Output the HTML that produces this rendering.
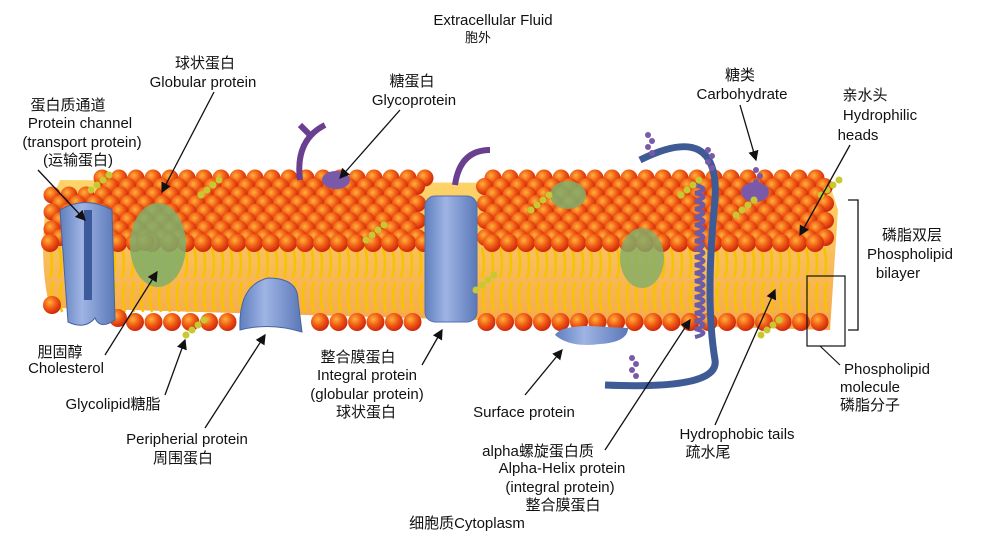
<!DOCTYPE html>
<html><head><meta charset="utf-8"><style>
body{margin:0;background:#fff;}
svg{display:block;}
text{font-family:"Liberation Sans","Noto Sans CJK SC",sans-serif;font-size:15px;fill:#111;text-anchor:middle;}
</style></head><body>
<svg id="s" width="1000" height="538" viewBox="0 0 1000 538">
<defs>
<radialGradient id="ball" cx="0.38" cy="0.35" r="0.7"><stop offset="0" stop-color="#ffb13a"/><stop offset="0.5" stop-color="#f05a14"/><stop offset="1" stop-color="#c8200c"/></radialGradient>
<linearGradient id="band" x1="0" y1="0" x2="0" y2="1"><stop offset="0" stop-color="#fcd56a"/><stop offset="1" stop-color="#f6a84a"/></linearGradient>
<linearGradient id="blue" x1="0" y1="0" x2="1" y2="0"><stop offset="0" stop-color="#5f7fbf"/><stop offset="0.4" stop-color="#9fb4e4"/><stop offset="1" stop-color="#5a78b8"/></linearGradient>
<marker id="ar" markerWidth="8" markerHeight="8" refX="7" refY="4" orient="auto"><path d="M0,0 L8,4 L0,8 z" fill="#111"/></marker>
</defs>
<g>
<path d="M45,215 Q40,260 48,300 L60,308 L830,330 L838,210 L830,185 L60,180 Z" fill="url(#band)"/>
<g id="tails"></g>
<g id="balls"></g>
</g>
<g>
<path d="M60,210 Q85,195 112,210 L115,320 Q100,330 95,318 Q85,330 68,322 Z" fill="url(#blue)" stroke="#4a64a0"/>
<path d="M88,210 L88,300" stroke="#3d5a9a" stroke-width="8"/>
<ellipse cx="158" cy="245" rx="28" ry="42" fill="#7fae6a" opacity="0.85"/>
<ellipse cx="568" cy="195" rx="18" ry="14" fill="#7fae6a" opacity="0.85"/>
<ellipse cx="642" cy="258" rx="22" ry="30" fill="#7fae6a" opacity="0.8"/>
<rect x="425" y="196" width="52" height="126" rx="10" fill="url(#blue)" stroke="#5270ac"/>
<path d="M240,330 Q238,285 268,278 Q298,278 298,300 L302,332 Q270,322 240,330 Z" fill="url(#blue)" stroke="#4a64a0"/>
<path d="M555,335 Q560,326 590,326 L628,328 Q628,342 600,344 Q570,348 555,335Z" fill="url(#blue)"/>
<path d="M640,160 Q720,120 715,200 Q705,300 715,360 Q720,390 605,385" fill="none" stroke="#3f5b95" stroke-width="7"/>
<path id="helix" fill="none" stroke="#6b5ba8" stroke-width="4"/>
<path d="M300,180 Q295,140 325,125 M310,135 L300,125" fill="none" stroke="#6a3f8f" stroke-width="6"/>
<path d="M455,185 Q460,150 490,150" fill="none" stroke="#6a3f8f" stroke-width="6"/>
<ellipse cx="336" cy="180" rx="14" ry="9" fill="#7a5aa8"/>
<ellipse cx="755" cy="192" rx="14" ry="10" fill="#7a5aa8"/>
</g>
<g id="chains"></g>
<g id="labels">
<text x="493" y="25">Extracellular Fluid</text>
<text x="478" y="42" style="font-size:13px">胞外</text>
<text x="205" y="68">球状蛋白</text><text x="203" y="87">Globular protein</text>
<text x="412" y="86">糖蛋白</text><text x="414" y="105">Glycoprotein</text>
<text x="740" y="80">糖类</text><text x="742" y="99">Carbohydrate</text>
<text x="865" y="100">亲水头</text><text x="880" y="120">Hydrophilic</text><text x="858" y="140">heads</text>
<text x="68" y="110">蛋白质通道</text><text x="80" y="128">Protein channel</text><text x="82" y="147">(transport protein)</text><text x="78" y="165">(运输蛋白)</text>
<text x="912" y="240">磷脂双层</text><text x="910" y="259">Phospholipid</text><text x="898" y="278">bilayer</text>
<text x="60" y="357">胆固醇</text><text x="66" y="373">Cholesterol</text>
<text x="113" y="409">Glycolipid糖脂</text>
<text x="187" y="444">Peripherial protein</text><text x="183" y="463">周围蛋白</text>
<text x="358" y="362">整合膜蛋白</text><text x="367" y="380">Integral protein</text><text x="367" y="399">(globular protein)</text><text x="366" y="417">球状蛋白</text>
<text x="524" y="417">Surface protein</text>
<text x="887" y="374">Phospholipid</text><text x="870" y="392">molecule</text><text x="870" y="410">磷脂分子</text>
<text x="737" y="439">Hydrophobic tails</text><text x="708" y="457">疏水尾</text>
<text x="538" y="456">alpha螺旋蛋白质</text><text x="562" y="473">Alpha-Helix protein</text><text x="560" y="492">(integral protein)</text><text x="563" y="510">整合膜蛋白</text>
<text x="467" y="528">细胞质Cytoplasm</text>
</g>
<g stroke="#111" stroke-width="1.3" fill="none">
<path d="M214,92 L162,192" marker-end="url(#ar)"/>
<path d="M400,110 L340,178" marker-end="url(#ar)"/>
<path d="M740,105 L756,160" marker-end="url(#ar)"/>
<path d="M850,145 L800,235" marker-end="url(#ar)"/>
<path d="M38,170 L85,220" marker-end="url(#ar)"/>
<path d="M105,355 L157,272" marker-end="url(#ar)"/>
<path d="M165,395 L185,340" marker-end="url(#ar)"/>
<path d="M205,428 L265,335" marker-end="url(#ar)"/>
<path d="M422,365 L442,330" marker-end="url(#ar)"/>
<path d="M525,395 L562,350" marker-end="url(#ar)"/>
<path d="M605,450 L690,320" marker-end="url(#ar)"/>
<path d="M715,425 L775,290" marker-end="url(#ar)"/>
<path d="M848,200 L858,200 L858,330 L848,330"/>
</g>
<rect x="807" y="276" width="38" height="70" fill="none" stroke="#111" stroke-width="1.2"/>
<path d="M820,346 L840,365" stroke="#111" stroke-width="1.2"/>
</svg>
<script>
const NS="http://www.w3.org/2000/svg";
function mk(tag,attrs,parent){const e=document.createElementNS(NS,tag);for(const k in attrs)e.setAttribute(k,attrs[k]);parent.appendChild(e);return e;}
const tails=document.getElementById('tails');
for(let x=50;x<830;x+=9){
 const p=mk('path',{d:`M${x},248 q4,15 0,30 M${x+3},282 q-4,15 0,30`,stroke:'#f7c200','stroke-width':2.5,fill:'none'},tails);
 
 
}
const balls=document.getElementById('balls');
function ball(x,y,r){const c=mk('circle',{cx:x,cy:y,r:r,fill:'url(#ball)'},balls);
 
 }
for(let j=0;j<8;j++){
 const y=178+j*8.5, off=(j%2)*8.5;
 for(let x=52+off+(j<2?50:0);x<830;x+=17){
  if(x>425&&x<478)continue;
  ball(x,y,8.5);
 }
}
for(let x=50;x<830;x+=17){ if(x>425&&x<478||x>58&&x<116)continue; ball(x,243,9);}
for(let x=135;x<830;x+=18.5){ if(x>425&&x<478||x>240&&x<302)continue; ball(x,322,9);}
ball(52,305,9);ball(118,318,9);ball(145,242,9);ball(170,242,9);
let d='M695,185';for(let y=185;y<330;y+=8){d+=` Q${y%16?712:680},${y+4} 695,${y+8}`;}
document.getElementById('helix').setAttribute('d',d);
const chains=document.getElementById('chains');
[[100,190],[210,195],[540,210],[690,195],[745,215],[830,195],[195,335],[770,335],[375,240],[485,290]].forEach(([x,y])=>{
 for(let i=0;i<4;i++){const c=mk('circle',{cx:x+i*6-9,cy:y-i*5,r:3.5,fill:'#c8c832'},chains);
 
 }
});
[[648,135],[708,150],[756,170],[632,358]].forEach(([x,y])=>{
 for(let i=0;i<4;i++){const c=mk('circle',{cx:x+(i%2)*4,cy:y+i*6,r:3,fill:'#7a5aa8'},chains);
 
 }
});
</script>
</body></html>
